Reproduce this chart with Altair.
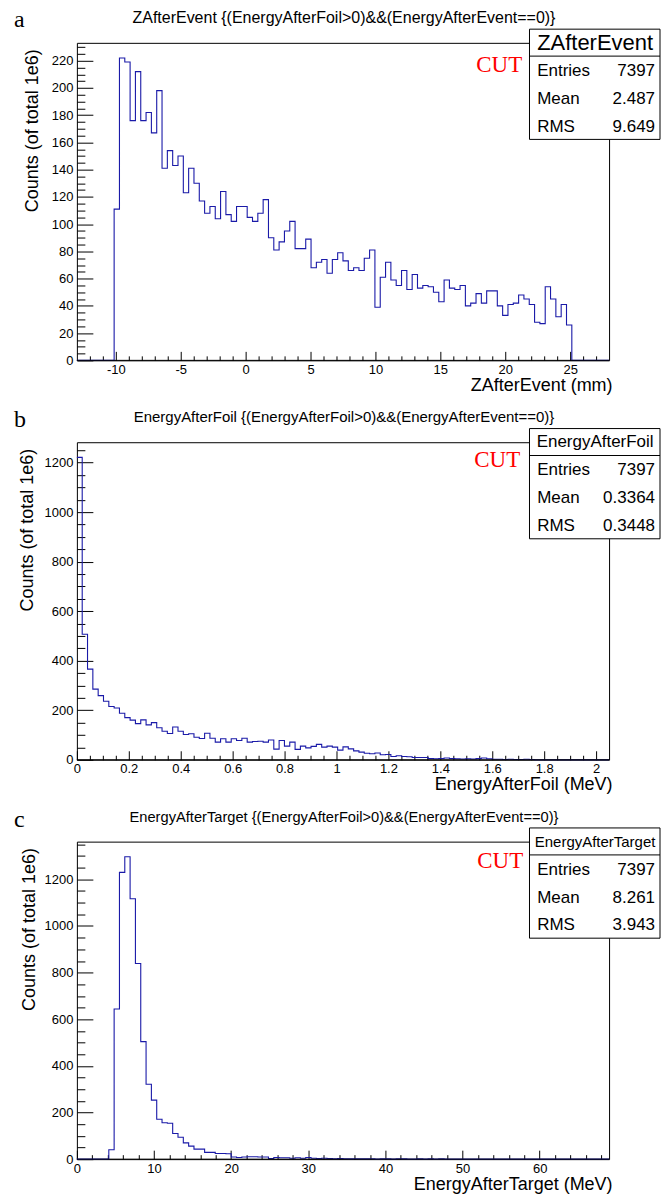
import altair as alt
import pandas as pd

SANS = "Liberation Sans"
SERIF = "Liberation Serif"
LINE = "#1a1aa8"
W, H = 533, 318

# ---------------- data ----------------
# panel a : ZAfterEvent, 100 bins on [-13, 28]
z_range = [-13.0, 28.0]
z_counts = [0] * 7 + [
    111, 222, 219, 176, 212, 176, 182, 167, 198, 141,
    154, 143, 150, 123, 141, 130, 117, 108, 113, 104,
    124, 107, 102, 113, 113, 105, 102, 108, 118, 90,
    81, 87, 95, 102, 82, 82, 89, 68, 72, 74,
    64, 74, 79, 73, 66, 68, 66, 75, 81, 39,
    61, 72, 59, 55, 66, 52, 63, 53, 55, 54,
    50, 43, 59, 53, 52, 55, 40, 42, 49, 42,
    51, 51, 40, 33, 41, 42, 48, 45, 41, 28,
    27, 54, 45, 32, 41, 26,
] + [0] * 7

# panel b : EnergyAfterFoil, 100 bins on [0, 2.05]
f_range = [0.0, 2.05]
f_counts = [
    1221, 507, 366, 285, 259, 236, 215, 209, 188, 170,
    160, 146, 161, 141, 150, 129, 115, 106, 132, 115,
    102, 105, 91, 86, 107, 87, 71, 85, 71, 85,
    78, 87, 71, 74, 75, 71, 80, 43, 78, 55,
    71, 42, 55, 48, 54, 62, 51, 55, 51, 39,
    52, 44, 36, 31, 26, 24, 27, 20, 21, 13,
    16, 13, 12, 9, 9, 9, 5, 4, 5, 7,
    5, 4, 3, 4, 3, 5, 7, 4, 2, 2,
    1, 2, 1, 1, 2, 1,
] + [0] * 14

# panel c : EnergyAfterTarget, 100 bins on [0, 69]
t_range = [0.0, 69.0]
t_counts = [0] * 6 + [
    40, 644, 1230, 1297, 1117, 839, 504, 321, 253, 171,
    156, 154, 110, 94, 70, 56, 43, 43, 29, 29,
    24, 24, 23, 9, 7, 9, 10, 10, 9, 9,
    3, 7, 6, 6, 4, 6, 4, 7, 4, 3,
    4, 3, 2, 3, 2, 1, 2, 1, 1, 2,
    0, 1, 1, 0, 2, 1, 0, 0, 1, 0,
    1, 0, 1,
] + [0] * 31

# axis tick positions (major + minor)
z_xticks = list(range(-12, 28))
z_yticks = list(range(0, 231, 5))
f_xticks = [round(0.05 * k, 2) for k in range(0, 41)]
f_yticks = list(range(0, 1251, 50))
t_xticks = list(range(0, 69, 2))
t_yticks = list(range(0, 1351, 50))

# stats boxes
stat_names = ["ZAfterEvent", "EnergyAfterFoil", "EnergyAfterTarget"]
stat_entries = ["7397", "7397", "7397"]
stat_mean = ["2.487", "0.3364", "8.261"]
stat_rms = ["9.649", "0.3448", "3.943"]

titles = [
    "ZAfterEvent {(EnergyAfterFoil>0)&&(EnergyAfterEvent==0)}",
    "EnergyAfterFoil {(EnergyAfterFoil>0)&&(EnergyAfterEvent==0)}",
    "EnergyAfterTarget {(EnergyAfterFoil>0)&&(EnergyAfterEvent==0)}",
]
x_titles = ["ZAfterEvent (mm)", "EnergyAfterFoil (MeV)", "EnergyAfterTarget (MeV)"]
y_title = "Counts (of total 1e6)"
letters = ["a", "b", "c"]

ONE = pd.DataFrame({"k": [0]})


def hist_frame(rng, counts):
    lo, hi = rng
    n = len(counts)
    w = (hi - lo) / n
    xs = [round(lo + k * w, 6) for k in range(n + 1)]
    ys = list(counts) + [counts[-1]]
    return pd.DataFrame({"x": xs, "y": ys})


def major_test(step):
    return f"abs(datum.value / {step} - round(datum.value / {step})) < 1e-6"


def txt(text, x, y, size, font=SANS, align="left", baseline="middle", color="black"):
    return alt.Chart(ONE).mark_text(
        text=text, fontSize=size, font=font, align=align, baseline=baseline, color=color
    ).encode(x=alt.value(x), y=alt.value(y))


def panel(i, rng, counts, xticks, xstep, yticks, ystep, title_size, head_size,
          cut_xy, letter_y, ytitle_x):
    df = hist_frame(rng, counts)
    ymax = max(counts) * 1.05
    xt = major_test(xstep)
    yt = major_test(ystep)
    xaxis = alt.Axis(
        values=xticks,
        tickSize={"expr": f"{xt} ? -9 : -4.5"},
        labelExpr=f"{xt} ? '' + datum.value : ''",
        labelPadding=12, labelFontSize=13, labelFont=SANS, labelColor="black",
        labelOverlap=False, labelFlush=False,
        domain=False, grid=False, tickColor="black", tickWidth=1,
        title=x_titles[i], titleFont=SANS, titleFontSize=18, titleFontWeight="normal",
        titleColor="black", titleX=536, titleY=30, titleAlign="right",
        titleBaseline="alphabetic", titleAngle=0,
    )
    yaxis = alt.Axis(
        values=yticks,
        tickSize={"expr": f"{yt} ? -16 : -8"},
        labelExpr=f"{yt} ? '' + datum.value : ''",
        labelPadding=20, labelFontSize=13, labelFont=SANS, labelColor="black",
        labelOverlap=False, labelFlush=False,
        domain=False, grid=False, tickColor="black", tickWidth=1,
        title=y_title, titleFont=SANS, titleFontSize=18, titleFontWeight="normal",
        titleColor="black", titleX=ytitle_x, titleY=6, titleAngle=270,
        titleAlign="right", titleBaseline="middle",
    )
    hist = alt.Chart(df).mark_line(
        interpolate="step-after", color=LINE, strokeWidth=1.1
    ).encode(
        x=alt.X("x:Q", scale=alt.Scale(domain=list(rng), nice=False, zero=False), axis=xaxis),
        y=alt.Y("y:Q", scale=alt.Scale(domain=[0, ymax], nice=False, zero=True), axis=yaxis),
    )
    base = alt.Chart(ONE).mark_rule(color="black", strokeWidth=1).encode(
        x=alt.value(0), x2=alt.value(W), y=alt.value(H)
    )
    box = alt.Chart(ONE).mark_rect(fill="white", stroke="black", strokeWidth=1).encode(
        x=alt.value(453.3), x2=alt.value(584), y=alt.value(-13.7), y2=alt.value(96.7)
    )
    sep = alt.Chart(ONE).mark_rule(color="black", strokeWidth=1).encode(
        x=alt.value(453.3), x2=alt.value(584), y=alt.value(13.3)
    )
    layers = [
        hist, base, box, sep,
        txt(titles[i], W / 2 + 1, -20, title_size, align="center", baseline="alphabetic"),
        txt(stat_names[i], 519, 0, head_size, align="center"),
        txt("Entries", 461, 28, 17),
        txt(stat_entries[i], 579, 28, 17, align="right"),
        txt("Mean", 461, 56, 17),
        txt(stat_mean[i], 579, 56, 17, align="right"),
        txt("RMS", 461, 84, 17),
        txt(stat_rms[i], 579, 84, 17, align="right"),
        txt("CUT", cut_xy[0], cut_xy[1], 23, font=SERIF, align="right", color="red"),
        txt(letters[i], -63, letter_y, 24, font=SERIF, baseline="alphabetic"),
    ]
    return alt.layer(*layers).properties(width=W, height=H)


pa = panel(0, z_range, z_counts, z_xticks, 5, z_yticks, 20, 16, 22, (446, 22), -16, -44)
pb = panel(1, f_range, f_counts, f_xticks, 0.2, f_yticks, 200, 15, 17, (444, 18), -15, -49)
pc = panel(2, t_range, t_counts, t_xticks, 10, t_yticks, 200, 14.7, 15, (447, 19), -15, -47)

chart = alt.vconcat(pa, pb, pc, spacing=82, bounds="flush").properties(
    padding={"left": 13, "top": 6, "right": 0, "bottom": 0}
).configure_view(stroke="black", strokeWidth=1)

chart.save("out.html", embed_options={"renderer": "svg", "actions": False})
